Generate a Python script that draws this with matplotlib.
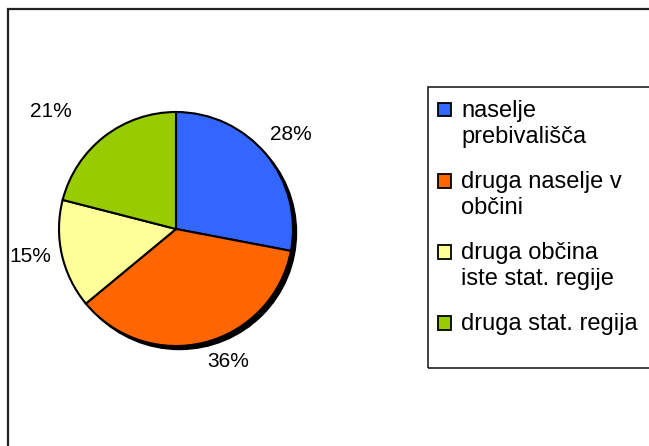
import numpy as np
import matplotlib.pyplot as plt
from matplotlib.patches import Rectangle, Circle

plt.rcParams['font.family'] = ['Liberation Sans', 'DejaVu Sans']

# Data
labels = ["naselje\nprebivališča", "druga naselje v\nobčini",
          "druga občina\niste stat. regije", "druga stat. regija"]
shares = [28, 36, 15, 21]
colors = ["#3366FF", "#FF6600", "#FFFF99", "#99CC00"]

W, H = 649, 446
fig = plt.figure(figsize=(W / 100, H / 100), dpi=100)

def fx(px):
    return px / W

def fy(py):
    return 1 - py / H

# outer chart frame (cut at right/bottom edge)
fig.patches.append(Rectangle((fx(7.5), fy(460)), fx(700), fy(8.5) - fy(460),
                             transform=fig.transFigure, fill=False,
                             edgecolor="#222222", linewidth=1.6))

# pie axes: centre (176, 229), radius 117 px
cx, cy, r, half = 176, 229, 117, 140
ax = fig.add_axes([fx(cx - half), fy(cy + half), fx(2 * half), (2 * half) / H])
lim = half / r

# shadow
ax.add_patch(Circle((0.03, -0.03), 1.0, color="black", zorder=0))
wedges, _ = ax.pie(shares, colors=colors, startangle=90, counterclock=False,
                   radius=1.0, frame=True,
                   wedgeprops=dict(edgecolor="black", linewidth=1.5))
ax.set_xlim(-lim, lim)
ax.set_ylim(-lim, lim)
ax.set_aspect("equal")
ax.axis("off")

# percentage labels (small per-label nudges like the original layout)
dist_extra = [0.0, -0.05, 0.0, 0.2]
ang_shift = [0, 7, -2, 9]
for w, s, de, da in zip(wedges, shares, dist_extra, ang_shift):
    a = np.deg2rad((w.theta1 + w.theta2) / 2 + da)
    d = 1.27 + de
    ax.text(d * np.cos(a), d * np.sin(a), f"{s}%", ha="center", va="center",
            fontsize=15)

# legend box
fig.patches.append(Rectangle((fx(427.5), fy(368)), fx(300), fy(87) - fy(368),
                             transform=fig.transFigure, fill=False,
                             edgecolor="#222222", linewidth=1.2))
top0 = 103
step = 71
for i, (lab, col) in enumerate(zip(labels, colors)):
    y = top0 + i * step
    fig.patches.append(Rectangle((fx(437.5), fy(y + 13.5)), fx(13.5), 13.5 / H,
                                 transform=fig.transFigure, facecolor=col,
                                 edgecolor="black", linewidth=1.3))
    fig.text(fx(461), fy(y - 3), lab, ha="left", va="top", fontsize=17,
             linespacing=1.25)

fig.savefig("out.png", dpi=100)
